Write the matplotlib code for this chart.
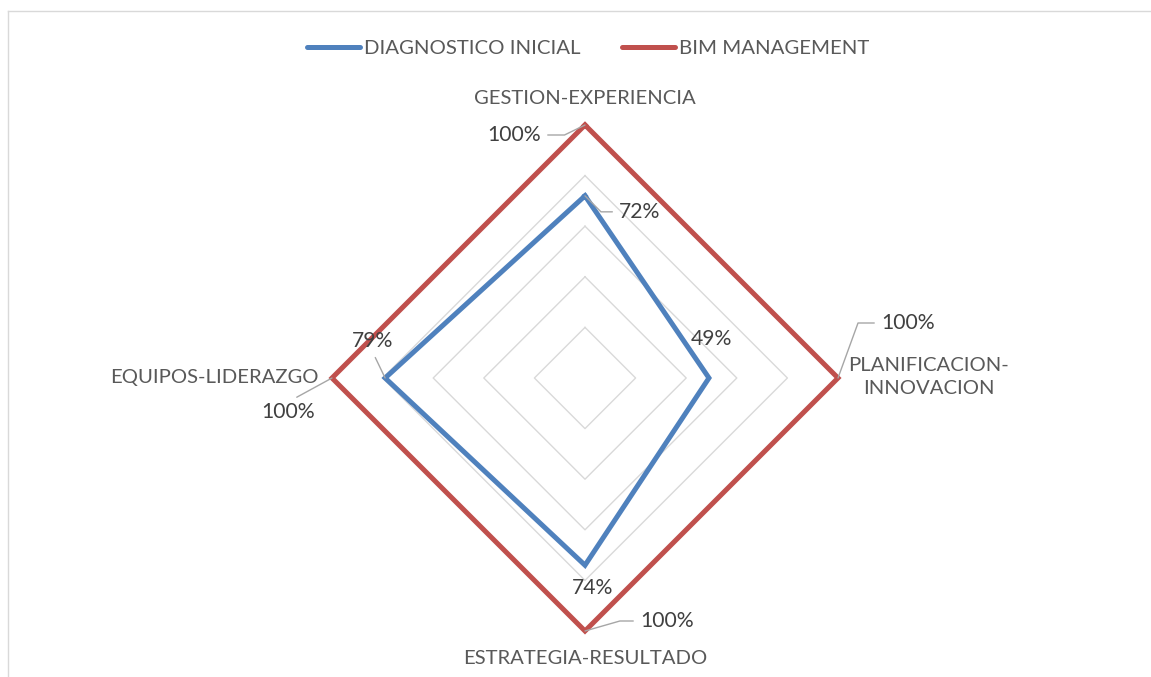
import numpy as np
import matplotlib
matplotlib.use("Agg")
import matplotlib.pyplot as plt
from matplotlib.lines import Line2D

# Chart data
categories = ["GESTION-EXPERIENCIA", "PLANIFICACION-\nINNOVACION",
              "ESTRATEGIA-RESULTADO", "EQUIPOS-LIDERAZGO"]
diagnostico = [0.72, 0.49, 0.74, 0.79]
bim = [1.00, 1.00, 1.00, 1.00]
series_names = ["DIAGNOSTICO INICIAL", "BIM MANAGEMENT"]
grid_levels = [0.2, 0.4, 0.6, 0.8, 1.0]

plt.rcParams['font.family'] = ['Lato', 'DejaVu Sans']

blue = '#4f81bd'
red = '#c0504d'
grid_col = '#d9d9d9'
txt_col = '#595959'
lbl_col = '#404040'

# Angles, clockwise from the top
angles = np.arange(len(categories)) * 2 * np.pi / len(categories)

def to_xy(values):
    v = np.asarray(values, dtype=float)
    x = v * np.sin(angles)
    y = v * np.cos(angles)
    return np.append(x, x[0]), np.append(y, y[0])

W, H = 1151, 677
fig = plt.figure(figsize=(W / 100, H / 100), dpi=100)
ax = fig.add_axes([0, 0, 1, 1])
scale = 253.0  # pixels per 100%
cx, cy = 585, 378
ax.set_xlim(-cx / scale, (W - cx) / scale)
ax.set_ylim(-(H - cy) / scale, cy / scale)
ax.axis('off')

# Outer frame of the chart area
ax.add_line(Line2D([8 / W, 1], [1 - 11 / H, 1 - 11 / H], transform=fig.transFigure,
                   color=grid_col, lw=1.0))
ax.add_line(Line2D([8 / W, 8 / W], [0, 1 - 11 / H], transform=fig.transFigure,
                   color=grid_col, lw=1.0))

# Diamond grid
for lev in grid_levels:
    gx, gy = to_xy([lev] * len(categories))
    ax.plot(gx, gy, color=grid_col, lw=1.0, zorder=1)

# Series
bx, by = to_xy(diagnostico)
ax.plot(bx, by, color=blue, lw=3.6, solid_joinstyle='miter', zorder=3)
rx, ry = to_xy(bim)
ax.plot(rx, ry, color=red, lw=3.6, solid_joinstyle='miter', zorder=3)

# Category labels
cat_fs = 14.6
ax.annotate(categories[0], (0, 1), xytext=(0, 27), textcoords='offset pixels',
            ha='center', va='center', fontsize=cat_fs, color=txt_col)
ax.annotate(categories[1], (1, 0), xytext=(91, 1), textcoords='offset pixels',
            ha='center', va='center', fontsize=cat_fs, color=txt_col, linespacing=1.45)
ax.annotate(categories[2], (0, -1), xytext=(0, -27), textcoords='offset pixels',
            ha='center', va='center', fontsize=cat_fs, color=txt_col)
ax.annotate(categories[3], (-1, 0), xytext=(-13, 1), textcoords='offset pixels',
            ha='right', va='center', fontsize=cat_fs, color=txt_col)

# Data labels: (offset of text centre in pixels, leader line settings)
blue_offsets = [(55, -16), (2, 39), (8, -23), (-13, 37)]
blue_leaders = [dict(relpos=(0, 0.5), connectionstyle="angle,angleA=0,angleB=135,rad=0"),
                None, None,
                dict(relpos=(0.5, 0), connectionstyle="arc3")]
red_offsets = [(-71, -10), (70, 55), (82, 10), (-44, -34)]
red_leaders = [dict(relpos=(1, 0.5), connectionstyle="angle,angleA=0,angleB=26,rad=0"),
               dict(relpos=(0, 0.5), connectionstyle="angle,angleA=0,angleB=70,rad=0"),
               dict(relpos=(0, 0.5), connectionstyle="angle,angleA=0,angleB=16,rad=0"),
               dict(relpos=(0.5, 1), connectionstyle="arc3")]

for vals, offs, leads in [(diagnostico, blue_offsets, blue_leaders),
                          (bim, red_offsets, red_leaders)]:
    px, py = to_xy(vals)
    for i, v in enumerate(vals):
        props = None
        if leads[i] is not None:
            props = dict(arrowstyle='-', color='#a6a6a6', lw=1.0,
                         shrinkA=3, shrinkB=0, **leads[i])
        ax.annotate("{:.0f}%".format(v * 100), (px[i], py[i]), xytext=offs[i],
                    textcoords='offset pixels', ha='center', va='center',
                    fontsize=15.2, color=lbl_col, arrowprops=props, zorder=4)

# Legend
handles = [Line2D([], [], color=blue, lw=3.6, solid_capstyle='round'),
           Line2D([], [], color=red, lw=3.6, solid_capstyle='round')]
ax.legend(handles, series_names, ncol=2, loc='center', bbox_to_anchor=(588 / W, 1 - 48 / H),
          frameon=False, fontsize=14.7, handlelength=2.6, handletextpad=0.2,
          columnspacing=2.0, labelcolor=txt_col)

fig.savefig("out.png", dpi=100)
